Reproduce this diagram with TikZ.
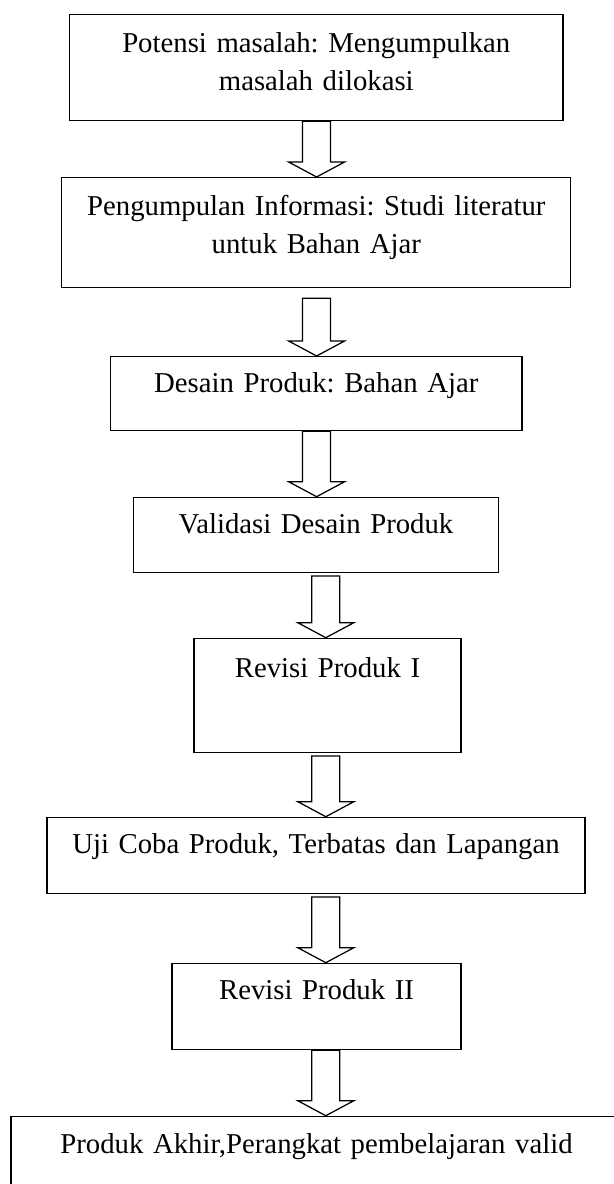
\documentclass[tikz,border=0pt]{standalone}
\usepackage{fontspec}
\setmainfont{Liberation Serif}
\usetikzlibrary{calc}
\frenchspacing

% hollow block arrow: x position, gap below source, source, target
\newcommand{\blockarrow}[4]{%
  \draw[hollow] ($(#3.south -| origin)+(#1-14,#2)$) -- ($(#4.north -| origin)+(#1-14,-15)$)
    -- ($(#4.north -| origin)+(#1-28,-15)$) -- ($(#4.north -| origin)+(#1,0)$)
    -- ($(#4.north -| origin)+(#1+28,-15)$) -- ($(#4.north -| origin)+(#1+14,-15)$)
    -- ($(#3.south -| origin)+(#1+14,#2)$) -- cycle;}

\begin{document}
\begin{tikzpicture}[
        x=0.4pt, y=-0.4pt,
        box/.style={draw, line width=0.5pt, anchor=north, inner sep=0pt, align=center, font=\fontsize{11.5}{15.2}\selectfont},
        hollow/.style={draw, line width=0.5pt, fill=white, line join=miter}
    ]
    \useasboundingbox (0,0) rectangle (613,1184);
    \coordinate (origin) at (0,0);

    % Steps
    \node[box, text width=197.4pt, text height=15.2pt, text depth=27.2pt] (potensi) at (316.3,14) {Potensi masalah: Mengumpulkan\\ masalah dilokasi};
    \node[box, text width=203.6pt, text height=15.2pt, text depth=28.8pt] (informasi) at (316.3,177) {Pengumpulan Informasi: Studi literatur\\ untuk Bahan Ajar};
    \node[box, text width=164.6pt, text height=14.4pt, text depth=15.2pt] (desain) at (316.3,356) {Desain Produk: Bahan Ajar};
    \node[box, text width=145.9pt, text height=14.5pt, text depth=15.5pt] (validasi) at (316,496.7) {Validasi Desain Produk};
    \node[box, text width=106.8pt, text height=15.7pt, text depth=29.9pt] (revisi1) at (327.5,637.7) {Revisi Produk I};
    \node[box, text width=215.2pt, text height=14.5pt, text depth=15.9pt] (ujicoba) at (316,816.7) {Uji Coba Produk, Terbatas dan Lapangan};
    \node[box, text width=115.6pt, text height=14.5pt, text depth=20pt] (revisi2) at (316.5,962.7) {Revisi Produk II};
    \node[box, text width=244.4pt, text height=14.8pt, text depth=18.8pt] (akhir) at (316.5,1115.7) {Produk Akhir,Perangkat pembelajaran valid};

    % Arrows
    \blockarrow{316.6}{0}{potensi}{informasi}
    \blockarrow{316.6}{10}{informasi}{desain}
    \blockarrow{316.6}{0}{desain}{validasi}
    \blockarrow{325.8}{3}{validasi}{revisi1}
    \blockarrow{325.8}{3}{revisi1}{ujicoba}
    \blockarrow{325.8}{3}{ujicoba}{revisi2}
    \blockarrow{325.8}{0}{revisi2}{akhir}

\end{tikzpicture}
\end{document}
